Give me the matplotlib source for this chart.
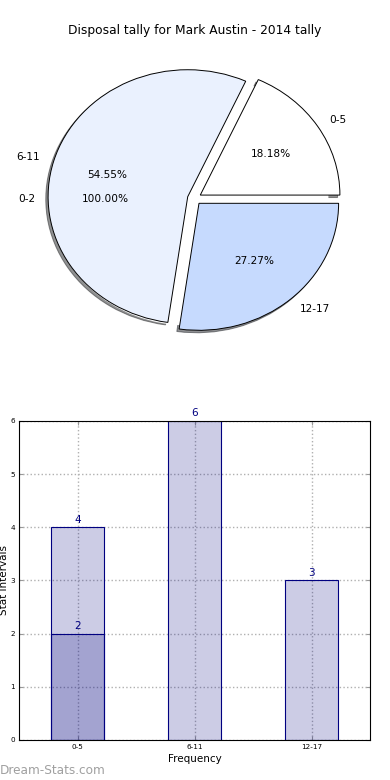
import matplotlib
matplotlib.use('Agg')
import matplotlib.pyplot as plt
import numpy as np

# pie data
pie_labels = ['0-5', '6-11', '12-17']
pie_values = [2, 6, 3]
pie_colors = ['white', '#eaf1fe', '#c6dafe']
inner_labels = ['0-2']
inner_values = [2]

# bar data
categories = ['0-5', '6-11', '12-17']
counts = [4, 6, 3]
sub_counts = [2]

fig = plt.figure(figsize=(3.9, 7.8), dpi=100)

# --- pie ---
ax1 = fig.add_axes([0.051, 0.542, 0.895, 0.407])
ax1.pie(inner_values, labels=inner_labels, autopct='%.2f%%', colors=['white'],
        explode=[0.04], wedgeprops=dict(linewidth=0), textprops=dict(fontsize=7.6))
ax1.pie(pie_values, labels=pie_labels, autopct='%.2f%%', colors=pie_colors,
        explode=[0.05, 0.05, 0.05], shadow=dict(ox=-0.012, oy=-0.014, shade=0.85),
        wedgeprops=dict(edgecolor='black', linewidth=0.7),
        textprops=dict(fontsize=7.6))
ax1.set_aspect('auto')
ax1.set_xlim(-1.25, 1.25)
ax1.set_ylim(-1.25, 1.25)
ax1.set_title('Disposal tally for Mark Austin - 2014 tally', fontsize=8.8, pad=4)

# --- bars ---
ax2 = fig.add_axes([0.049, 0.0513, 0.9, 0.409])
x = np.arange(len(categories))
bars = ax2.bar(x, counts, width=0.45, facecolor=(0, 0, 0.5, 0.2),
               edgecolor='navy', linewidth=0.8, zorder=2)
bars2 = ax2.bar(x[:len(sub_counts)], sub_counts, width=0.45, facecolor=(0, 0, 0.5, 0.2),
                edgecolor='navy', linewidth=0.8, zorder=2)
for b in list(bars) + list(bars2):
    ax2.text(b.get_x() + b.get_width() / 2, b.get_height() + 0.05, '%d' % b.get_height(),
             ha='center', va='bottom', color='navy', fontsize=7.5)

ax2.set_xlim(-0.5, 2.5)
ax2.set_ylim(0, 6)
ax2.set_xticks(x)
ax2.set_xticklabels(categories)
ax2.set_yticks(range(0, 7))
ax2.tick_params(labelsize=5.2, direction='in', length=3, color='#999999',
                right=True, top=True, pad=3)
ax2.grid(True, linestyle=':', color='#b0b0b0', linewidth=1, zorder=0)
ax2.set_axisbelow(True)
ax2.set_xlabel('Frequency', fontsize=7.5, labelpad=3)
ax2.set_ylabel('Stat Intervals', fontsize=7.5, labelpad=1)

fig.text(0.0, 0.004, 'Dream-Stats.com', color='#a0a0a0', fontsize=8.7,
         ha='left', va='bottom')

fig.savefig('out.png', dpi=100)
